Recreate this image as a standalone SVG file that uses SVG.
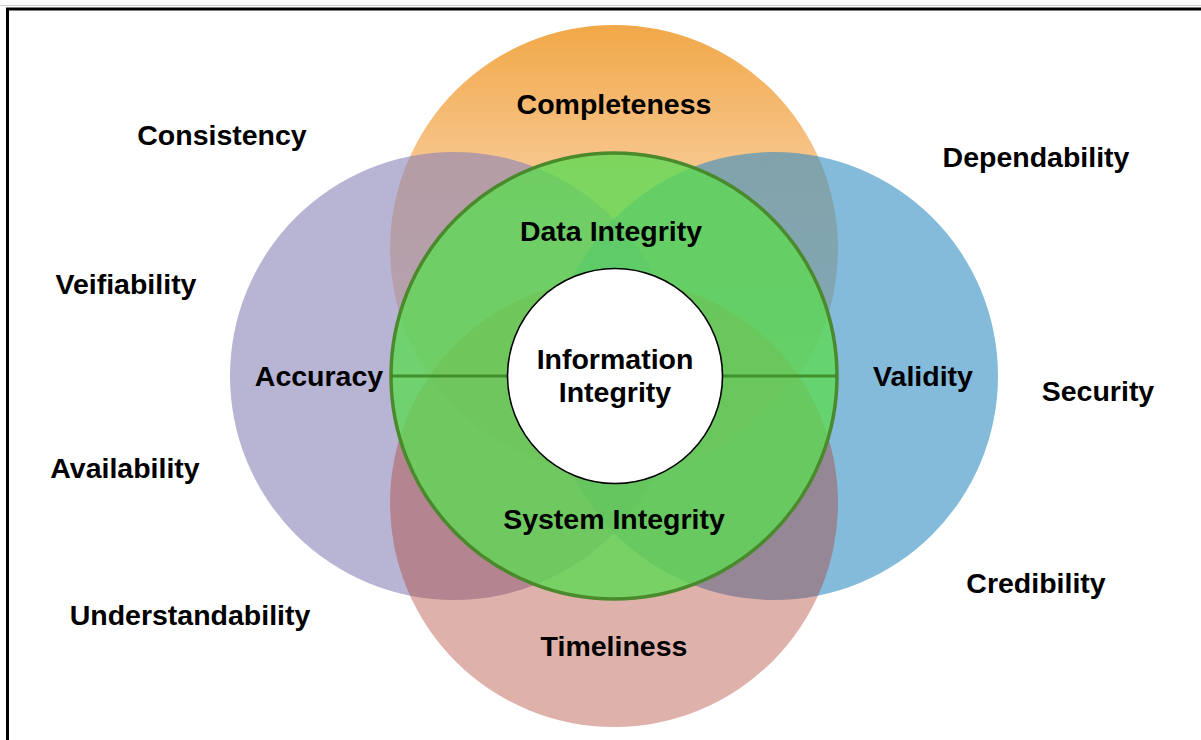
<svg xmlns="http://www.w3.org/2000/svg" width="1201" height="740" viewBox="0 0 1201 740">
<defs>
<linearGradient id="orangeGrad" gradientUnits="userSpaceOnUse" x1="0" y1="25" x2="0" y2="473">
<stop offset="0" stop-color="#f1a848"/>
<stop offset="0.3" stop-color="#f7c489"/>
<stop offset="1" stop-color="#fbdab4"/>
</linearGradient>
<style>
.lbl{font-family:"Liberation Sans",Arial,sans-serif;font-weight:bold;font-size:28.5px;fill:#000;text-anchor:middle}
.ring{fill:#5eda54;fill-opacity:0.8;stroke:#4a8a2c;stroke-width:3.5}
.div{stroke:#3c8a26;stroke-width:3;stroke-opacity:0.9}
</style>
</defs>
<rect x="0" y="0" width="1201" height="740" fill="#fff"/>
<line x1="0" y1="5.5" x2="1201" y2="5.5" stroke="#d0d0d0" stroke-width="1"/>
<rect x="7.5" y="9" width="1200" height="740" fill="none" stroke="#000" stroke-width="3"/>

<g id="completeness">
<circle cx="614" cy="249" r="224" fill="url(#orangeGrad)"/>
<text class="lbl" x="614" y="114">Completeness</text>
</g>
<g id="accuracy">
<circle cx="454" cy="376" r="224" fill="#8982b7" fill-opacity="0.6"/>
</g>
<g id="validity">
<circle cx="774" cy="376" r="224" fill="#328cc1" fill-opacity="0.6"/>
</g>
<g id="timeliness">
<circle cx="614" cy="503" r="224" fill="#af3c2d" fill-opacity="0.4"/>
<text class="lbl" x="614" y="656">Timeliness</text>
</g>

<g id="integrity-ring">
<circle class="ring" cx="614" cy="376" r="223"/>
</g>
<g id="connectors">
<line class="div" x1="391" y1="376" x2="508" y2="376"/>
<line class="div" x1="722" y1="376" x2="837" y2="376"/>
</g>
<g id="information-integrity">
<circle cx="615" cy="376" r="107.5" fill="#fff" stroke="#000" stroke-width="1.6"/>
<text class="lbl" x="615" y="369">Information</text>
<text class="lbl" x="615" y="402">Integrity</text>
</g>
<g id="data-integrity"><text class="lbl" x="611" y="241">Data Integrity</text></g>
<g id="system-integrity"><text class="lbl" x="614" y="529">System Integrity</text></g>
<g id="accuracy-label"><text class="lbl" x="319" y="386">Accuracy</text></g>
<g id="validity-label"><text class="lbl" x="923" y="386">Validity</text></g>

<g id="consistency"><text class="lbl" x="222" y="145">Consistency</text></g>
<g id="veifiability"><text class="lbl" x="126" y="294">Veifiability</text></g>
<g id="availability"><text class="lbl" x="125" y="478">Availability</text></g>
<g id="understandability"><text class="lbl" x="190" y="625">Understandability</text></g>
<g id="dependability"><text class="lbl" x="1036" y="167">Dependability</text></g>
<g id="security"><text class="lbl" x="1098" y="401">Security</text></g>
<g id="credibility"><text class="lbl" x="1036" y="593">Credibility</text></g>
</svg>
